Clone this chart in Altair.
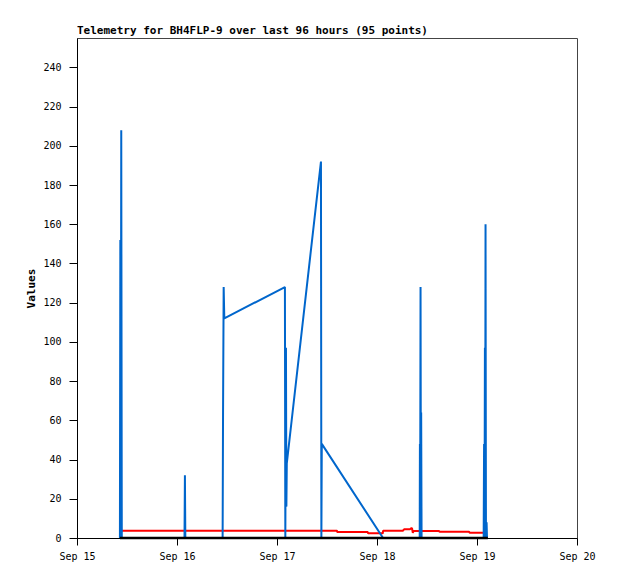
import altair as alt
import pandas as pd

# Hours since Sep 15 00:00 and values
blue_hours = [10.30, 10.40, 10.50, 10.62, 10.75, 10.85,
              25.80, 25.90, 26.00,
              34.95, 35.05, 35.20, 35.35,
              49.90, 50.00, 50.15, 50.25, 50.35,
              58.55, 58.65, 58.75, 73.45,
              82.25, 82.30, 82.35, 82.45, 82.55, 82.60, 82.70,
              97.60, 97.70, 97.80, 97.90, 97.95, 98.05, 98.15, 98.30, 98.40]
blue_values = [0, 152, 0, 208, 0, 0,
               0, 32, 0,
               0, 64, 128, 112,
               128, 0, 97, 16, 38,
               192, 0, 48, 0,
               0, 48, 0, 128, 0, 64, 0,
               0, 48, 0, 97, 0, 160, 0, 8, 0]

red_hours = [10.30, 10.50, 10.70, 62.40, 62.45, 69.80, 69.85, 73.40, 73.45,
             78.20, 78.50, 79.90, 80.20, 80.40, 80.60, 80.80, 86.90, 87.00,
             94.10, 94.20, 98.20]
red_values = [3.7, 2.6, 3.7, 3.7, 3.0, 3.0, 2.4, 2.4, 3.7,
              3.7, 4.4, 4.4, 5.0, 5.0, 2.7, 3.6, 3.6, 3.2,
              3.2, 2.7, 2.7]

black_hours = [10.30, 98.60]
black_values = [0, 0]

y_ticks = list(range(0, 241, 20))
x_tick_days = [15, 16, 17, 18, 19, 20]

base = pd.Timestamp("2023-09-15 00:00:00")


def make_frame(hours, values):
    return pd.DataFrame({
        "time": [(base + pd.Timedelta(hours=h)).strftime("%Y-%m-%dT%H:%M:%S") for h in hours],
        "value": values,
    })


mono = "DejaVu Sans Mono"

x_enc = alt.X(
    "time:T",
    scale=alt.Scale(domain=[alt.DateTime(year=2023, month=9, date=15),
                            alt.DateTime(year=2023, month=9, date=20)]),
    axis=alt.Axis(
        values=[alt.DateTime(year=2023, month=9, date=d) for d in x_tick_days],
        format="%b %d", title=None, grid=False, tickSize=7, labelPadding=6,
        labelFlush=False,
    ),
)
y_enc = alt.Y(
    "value:Q",
    scale=alt.Scale(domain=[0, 255], nice=False),
    axis=alt.Axis(values=y_ticks, title="Values", grid=False, tickSize=8,
                  labelPadding=8, titlePadding=6),
)

black = alt.Chart(make_frame(black_hours, black_values)).mark_line(
    color="#000000", strokeWidth=2.5, strokeJoin="bevel").encode(x=x_enc, y=y_enc)
red = alt.Chart(make_frame(red_hours, red_values)).mark_line(
    color="#ff0000", strokeWidth=2, strokeJoin="bevel").encode(x=x_enc, y=y_enc)
blue = alt.Chart(make_frame(blue_hours, blue_values)).mark_line(
    color="#0066cc", strokeWidth=2, strokeJoin="bevel").encode(x=x_enc, y=y_enc)

chart = alt.layer(red, blue, black).properties(
    width=500,
    height=500,
    autosize=alt.AutoSizeParams(type="none"),
    padding={"left": 69, "top": 30, "right": 33, "bottom": 33},
    title=alt.TitleParams(
        "Telemetry for BH4FLP-9 over last 96 hours (95 points)",
        anchor="start", frame="group", font=mono, fontSize=11,
        fontWeight="bold", color="#000000", offset=2,
    ),
).configure_view(
    stroke="#444444", strokeWidth=1
).configure_axis(
    domainColor="#000000", tickColor="#000000", labelColor="#000000",
    labelFont=mono, labelFontSize=10, titleFont=mono, titleFontSize=11,
    titleFontWeight="bold", titleColor="#000000",
)

chart.save("out.html", embed_options={"renderer": "svg", "actions": False})
